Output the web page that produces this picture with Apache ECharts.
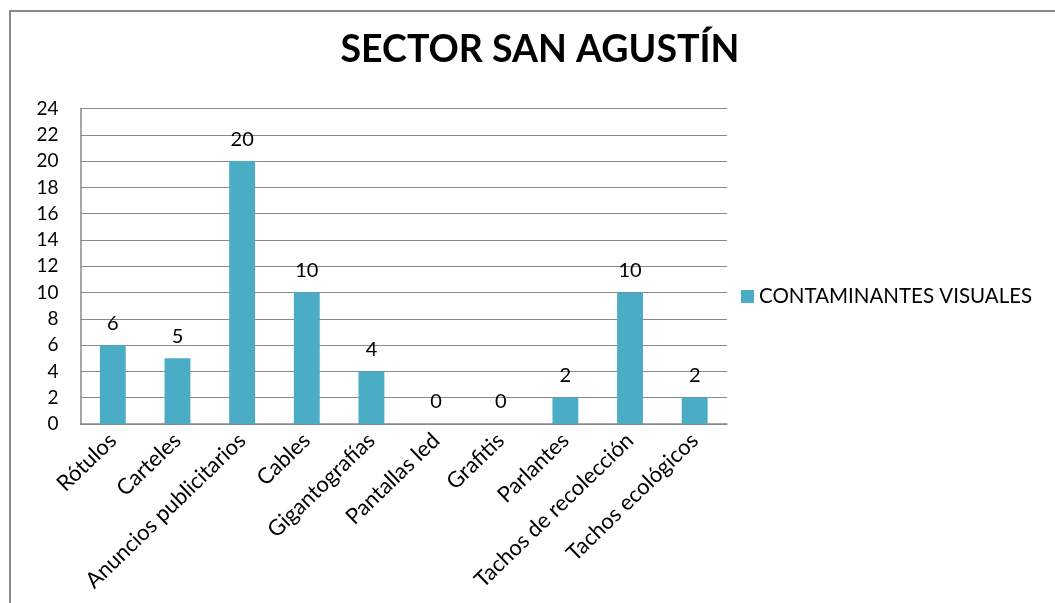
<!DOCTYPE html>
<html>
<head>
<meta charset="utf-8">
<script src="https://cdn.jsdelivr.net/npm/echarts@6/dist/echarts.min.js"></script>
<style>
  html, body { margin: 0; padding: 0; background: #fff; }
  .frame {
    position: absolute; left: 9px; top: 10px; width: 1100px; height: 640px;
    border-left: 2px solid #898989; border-top: 2px solid #898989;
  }
  #chart { position: absolute; left: 0; top: 0; width: 1055px; height: 603px; }
</style>
</head>
<body>
<div class="frame"></div>
<div id="chart"></div>
<script>
const categories = [
  "Rótulos", "Carteles", "Anuncios publicitarios", "Cables", "Gigantografías",
  "Pantallas led", "Grafitis", "Parlantes", "Tachos de recolección", "Tachos ecológicos"
];
const contaminantes = [6, 5, 20, 10, 4, 0, 0, 2, 10, 2];
const seriesName = "CONTAMINANTES VISUALES";
const chartTitle = "SECTOR SAN AGUSTÍN";

const font = "Lato";
const chart = echarts.init(document.getElementById("chart"), null, { renderer: "canvas" });
chart.setOption({
  animation: false,
  backgroundColor: "transparent",
  title: {
    text: chartTitle,
    left: 535,
    top: 26,
    textAlign: "center",
    textStyle: { fontFamily: font, fontWeight: "bold", fontSize: 37.5, color: "#000" }
  },
  legend: {
    data: [seriesName],
    left: 736,
    top: 281,
    itemWidth: 13,
    itemHeight: 13,
    icon: "rect",
    textStyle: { fontFamily: font, fontSize: 20.5, color: "#000" }
  },
  grid: { left: 80.5, right: 328, top: 108.5, bottom: 179 },
  xAxis: {
    type: "category",
    data: categories,
    axisLine: { lineStyle: { color: "#898989", width: 1.5 } },
    axisTick: { show: false },
    axisLabel: {
      interval: 0,
      rotate: 44,
      margin: 13,
      fontFamily: font,
      fontSize: 22,
      color: "#000"
    }
  },
  yAxis: {
    type: "value",
    min: 0,
    max: 24,
    interval: 2,
    axisLine: { show: true, lineStyle: { color: "#898989", width: 1.5 } },
    axisTick: { show: false },
    splitLine: { lineStyle: { color: "#898989", width: 1.2 } },
    axisLabel: { margin: 22, fontFamily: font, fontSize: 19, color: "#000" }
  },
  series: [{
    name: seriesName,
    type: "bar",
    data: contaminantes,
    barWidth: "40%",
    itemStyle: { color: "#4BACC6" },
    label: {
      show: true,
      position: "top",
      distance: 12,
      fontFamily: font,
      fontSize: 20,
      color: "#000"
    }
  }]
});
</script>
</body>
</html>
